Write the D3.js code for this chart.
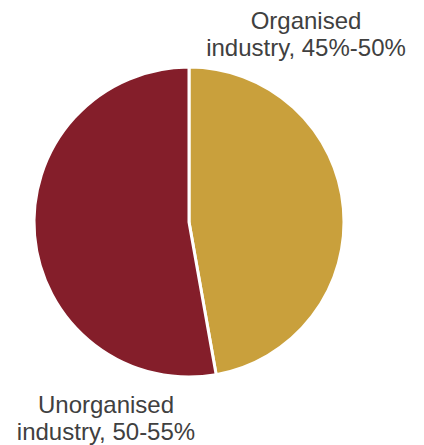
<!DOCTYPE html>
<html>
<head>
<meta charset="utf-8">
<script src="https://cdn.jsdelivr.net/npm/d3@7"></script>
<style>
  body { margin: 0; background: #fff; }
  text { font-family: "Liberation Sans", Arial, sans-serif; fill: #404040; }
</style>
</head>
<body>
<svg id="chart"></svg>
<script>
// data
const segments = ['Organised', 'Unorganised'];
const shares = [47.2, 52.8];
const labelLines = [
  ['Organised', 'industry, 45%-50%'],
  ['Unorganised', 'industry, 50-55%']
];
const colors = ['#C9A03C', '#841E2A'];

const width = 424, height = 445;
const cx = 189, cy = 222, radius = 155;

const svg = d3.select('#chart')
  .attr('width', width)
  .attr('height', height);

const pie = d3.pie().sort(null).value(d => d.value);
const arc = d3.arc().innerRadius(0).outerRadius(radius);

const data = segments.map((s, i) => ({ name: s, value: shares[i], color: colors[i], lines: labelLines[i] }));

const g = svg.append('g').attr('transform', `translate(${cx},${cy})`);

g.selectAll('path')
  .data(pie(data))
  .enter().append('path')
    .attr('d', arc)
    .attr('fill', d => d.data.color)
    .attr('stroke', '#fff')
    .attr('stroke-width', 3);

// labels
const labelPos = [[306, 29], [106, 413]];
svg.selectAll('.lbl')
  .data(data)
  .enter().append('text')
    .attr('class', 'lbl')
    .attr('text-anchor', 'middle')
    .attr('font-size', 24)
    .each(function(d, i) {
      const t = d3.select(this);
      d.lines.forEach((line, j) => {
        t.append('tspan')
          .attr('x', labelPos[i][0])
          .attr('y', labelPos[i][1] + j * 26.5)
          .text(line);
      });
    });
</script>
</body>
</html>
